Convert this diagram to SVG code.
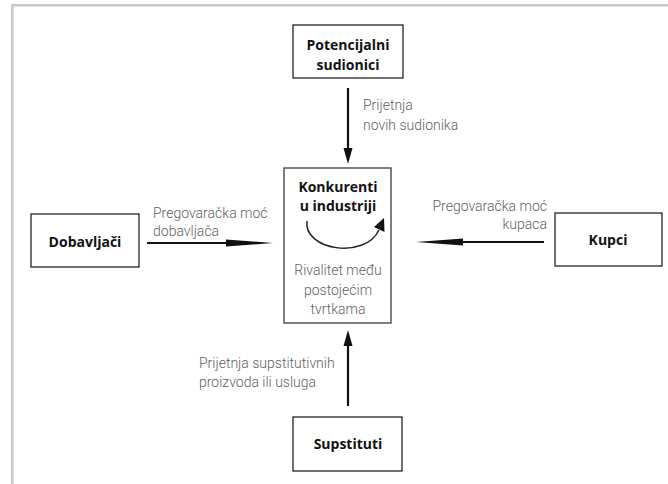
<svg xmlns="http://www.w3.org/2000/svg" width="668" height="484" viewBox="0 0 668 484">
<style>
.box{fill:#fff;stroke:#111;stroke-width:1.2}
.cbox{fill:#fff;stroke:#555;stroke-width:1.5}
.bold{font-family:"Open Sans","Liberation Sans",sans-serif;font-weight:bold;font-size:14px;fill:#111;text-anchor:middle}
.lbl{font-family:Roboto,"Liberation Sans",sans-serif;font-weight:300;font-size:14px;fill:#5f5f5f}
.ln{stroke:#111;stroke-width:2.2;fill:none}
.head{fill:#111}
</style>
<rect x="0" y="0" width="668" height="484" fill="#fff"/>
<g id="frame" fill="#c8c8c8">
<rect x="11" y="4" width="657" height="2.5"/>
<rect x="11" y="4" width="2.5" height="480"/>
</g>
<g id="connectors">
<line class="ln" x1="348" y1="88" x2="348" y2="150"/>
<polygon class="head" points="343.5,148 352.5,148 348,164"/>
<line class="ln" x1="348" y1="406" x2="348" y2="344"/>
<polygon class="head" points="343.5,346 352.5,346 348,330"/>
<line class="ln" x1="147" y1="243" x2="232" y2="243"/>
<polygon class="head" points="226,239.5 273,243 226,246.5"/>
<line class="ln" x1="544" y1="242" x2="458" y2="242"/>
<polygon class="head" points="463,238.5 416,242 463,245.5"/>
</g>
<g id="labels">
<text class="lbl" x="363" y="110">Prijetnja</text>
<text class="lbl" x="363" y="130">novih sudionika</text>
<text class="lbl" x="153" y="218">Pregovaračka moć</text>
<text class="lbl" x="153" y="236">dobavljača</text>
<text class="lbl" x="547" y="211" text-anchor="end">Pregovaračka moć</text>
<text class="lbl" x="547" y="229" text-anchor="end">kupaca</text>
<text class="lbl" x="199" y="368">Prijetnja supstitutivnih</text>
<text class="lbl" x="199" y="387">proizvoda ili usluga</text>
</g>
<g id="potencijalni">
<rect class="box" x="293" y="25" width="110" height="53"/>
<text class="bold" x="348" y="50">Potencijalni</text>
<text class="bold" x="348" y="70">sudionici</text>
</g>
<g id="dobavljaci">
<rect class="box" x="31" y="214" width="108" height="53"/>
<text class="bold" x="85" y="247">Dobavljači</text>
</g>
<g id="kupci">
<rect class="box" x="555" y="213" width="107" height="53"/>
<text class="bold" x="608" y="245">Kupci</text>
</g>
<g id="supstituti">
<rect class="box" x="293" y="417" width="109" height="54"/>
<text class="bold" x="348" y="449">Supstituti</text>
</g>
<g id="konkurenti">
<rect class="cbox" x="284" y="168" width="107" height="155"/>
<text class="bold" x="338" y="192">Konkurenti</text>
<text class="bold" x="338" y="211">u industriji</text>
<path d="M307,221 C303,250 365,260 379,230" fill="none" stroke="#222" stroke-width="1.5"/>
<polygon class="head" points="374,227 384,218 384.5,232"/>
<text class="lbl" x="338" y="275" text-anchor="middle">Rivalitet među</text>
<text class="lbl" x="338" y="295" text-anchor="middle">postojećim</text>
<text class="lbl" x="338" y="314" text-anchor="middle">tvrtkama</text>
</g>
</svg>
